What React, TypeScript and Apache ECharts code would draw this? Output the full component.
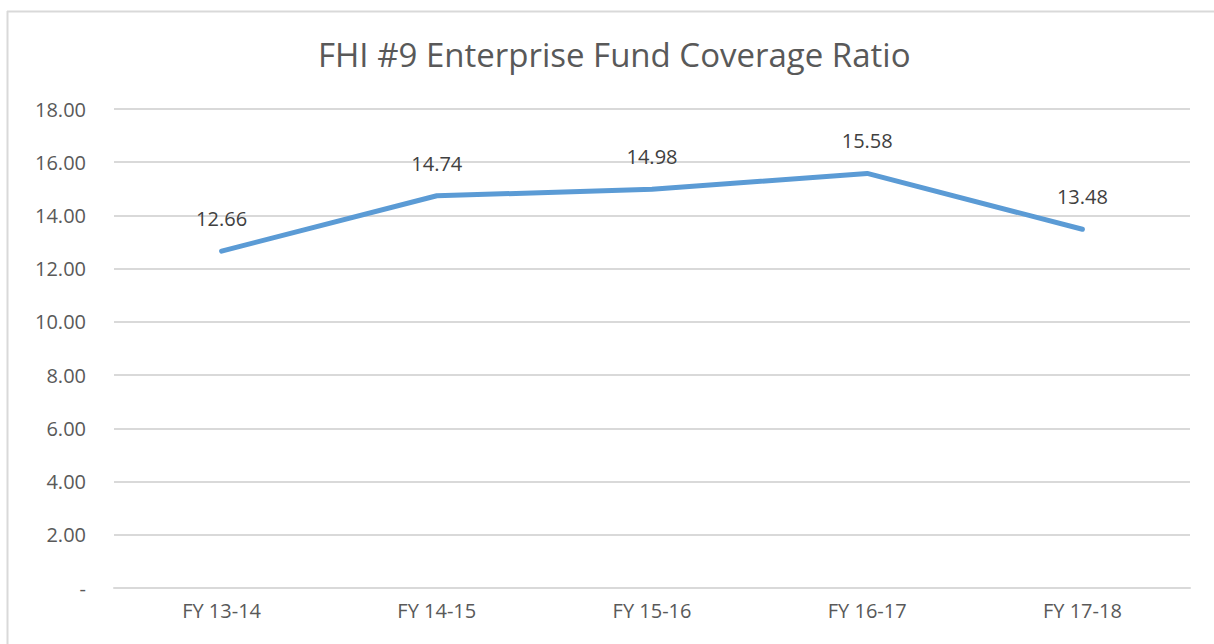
import React, { useEffect, useRef } from "react";
import * as echarts from "echarts";

const categories = ["FY 13-14", "FY 14-15", "FY 15-16", "FY 16-17", "FY 17-18"];
const ratios = [12.66, 14.74, 14.98, 15.58, 13.48];
const titleText = "FHI #9 Enterprise Fund Coverage Ratio";

export default function App() {
  const ref = useRef<HTMLDivElement>(null);
  useEffect(() => {
    if (!ref.current) return;
    const chart = echarts.init(ref.current, null, { renderer: "svg" });
    const font = "'Open Sans', 'Noto Sans', sans-serif";
    chart.setOption({
      animation: false,
      backgroundColor: "#ffffff",
      title: {
        text: titleText,
        left: 313,
        top: 33,
        textStyle: { fontFamily: font, fontSize: 33, fontWeight: "normal", color: "#595959" },
      },
      grid: { left: 114, right: 24, top: 109, bottom: 56, containLabel: false },
      xAxis: {
        type: "category",
        data: categories,
        boundaryGap: true,
        axisLine: { show: true, lineStyle: { color: "#d9d9d9", width: 2 } },
        axisTick: { show: false },
        axisLabel: { fontFamily: font, fontSize: 20, color: "#595959", margin: 12 },
      },
      yAxis: {
        type: "value",
        min: 0,
        max: 18,
        interval: 2,
        axisLine: { show: false },
        axisTick: { show: false },
        splitLine: { lineStyle: { color: "#d9d9d9", width: 2 } },
        axisLabel: {
          fontFamily: font,
          fontSize: 20,
          color: "#595959",
          margin: 28,
          formatter: (v: number) => (v === 0 ? "-" : v.toFixed(2)),
        },
      },
      series: [
        {
          type: "line",
          data: ratios,
          symbol: "circle",
          symbolSize: 1,
          showSymbol: true,
          itemStyle: { color: "rgba(0,0,0,0)" },
          lineStyle: { color: "#5b9bd5", width: 5, cap: "round", join: "round" },
          label: {
            show: true,
            position: "top",
            distance: 22,
            fontFamily: font,
            fontSize: 20,
            color: "#404040",
            formatter: (p: any) => p.value.toFixed(2),
          },
        },
      ],
      graphic: [
        { type: "line", shape: { x1: 7.5, y1: 11, x2: 7.5, y2: 644 }, style: { stroke: "#d9d9d9", lineWidth: 2 } },
        { type: "line", shape: { x1: 7, y1: 11.5, x2: 1214, y2: 11.5 }, style: { stroke: "#d9d9d9", lineWidth: 2 } },
      ],
    });
    return () => chart.dispose();
  }, []);
  return <div ref={ref} style={{ position: "fixed", left: 0, top: 0, width: 1214, height: 644 }} />;
}
